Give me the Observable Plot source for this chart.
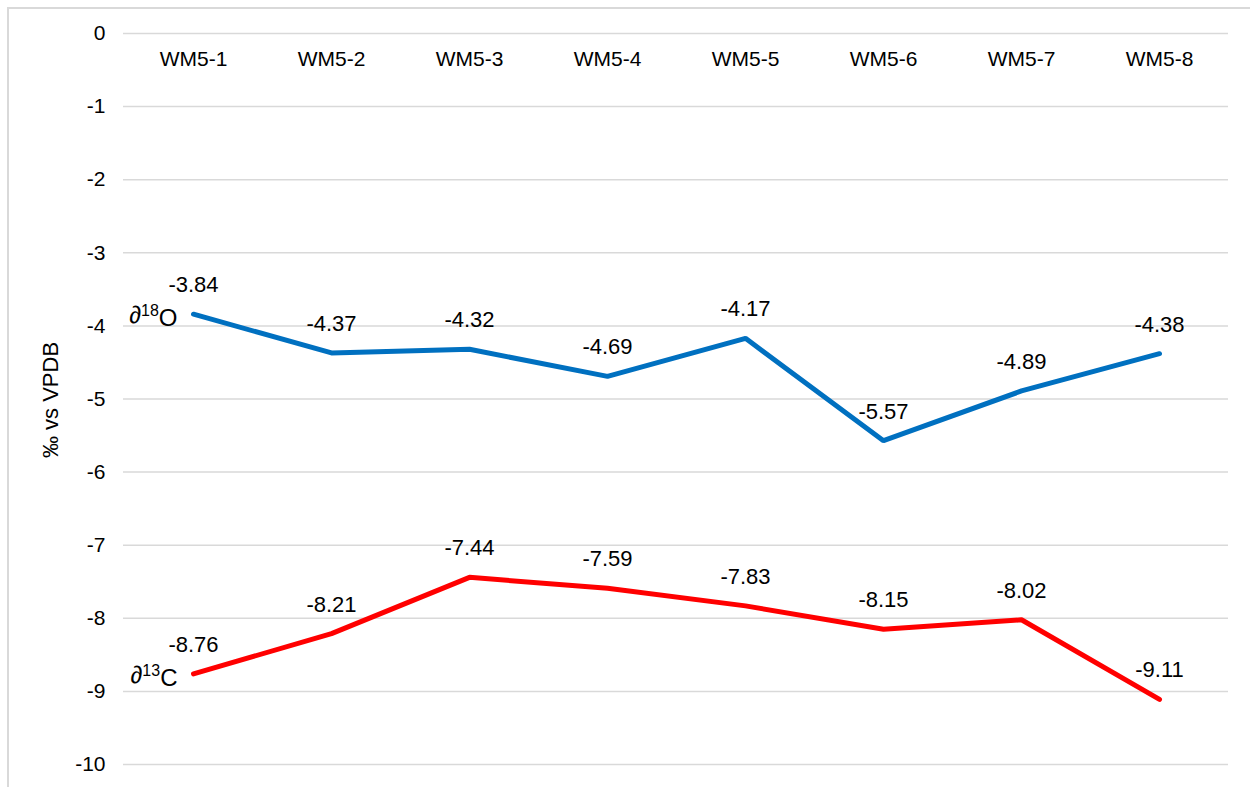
<!DOCTYPE html>
<html>
<head>
<meta charset="utf-8">
<script src="https://cdn.jsdelivr.net/npm/d3@7"></script>
<script src="https://cdn.jsdelivr.net/npm/@observablehq/plot@0.6"></script>
<style>
  html, body { margin: 0; padding: 0; background: #fff; overflow: hidden; }
  #wrap { position: relative; width: 1250px; height: 787px; }
  #frame { position: absolute; left: 7px; top: 7px; width: 1300px; height: 900px; border: 2px solid #d9d9d9; box-sizing: border-box; pointer-events: none; }
  #chart { position: absolute; left: 0; top: 0; }
</style>
</head>
<body>
<div id="wrap"><div id="frame"></div><div id="chart"></div></div>
<script>
const samples = ["WM5-1", "WM5-2", "WM5-3", "WM5-4", "WM5-5", "WM5-6", "WM5-7", "WM5-8"];
const o18 = [-3.84, -4.37, -4.32, -4.69, -4.17, -5.57, -4.89, -4.38];
const c13 = [-8.76, -8.21, -7.44, -7.59, -7.83, -8.15, -8.02, -9.11];
const yTicks = [0, -1, -2, -3, -4, -5, -6, -7, -8, -9, -10];
const seriesNames = ["O", "C"];
const seriesColors = ["#0070C0", "#FF0000"];
const seriesSup = ["18", "13"];

const rows = [];
samples.forEach((s, i) => rows.push({sample: s, value: o18[i], series: "O"}));
samples.forEach((s, i) => rows.push({sample: s, value: c13[i], series: "C"}));
const firsts = [rows[0], rows[samples.length]];

const font = "'Liberation Sans', Arial, sans-serif";

const plot = Plot.plot({
  width: 1250,
  height: 787,
  marginTop: 33,
  marginBottom: 23,
  marginLeft: 123,
  marginRight: 22,
  style: {fontFamily: font, fontSize: "21px", color: "#000", background: "transparent"},
  x: {type: "point", domain: samples, padding: 0.5, axis: null},
  y: {domain: [-10, 0], ticks: yTicks},
  color: {domain: seriesNames, range: seriesColors},
  marks: [
    Plot.gridY(yTicks, {stroke: "#d9d9d9", strokeOpacity: 1, strokeWidth: 1.5}),
    Plot.axisY(yTicks, {tickSize: 0, tickPadding: 18, label: null, fontSize: 21, tickFormat: d => d === 0 ? "0" : String(d).replace("\u2212", "-")}),
    Plot.text(samples, {x: d => d, frameAnchor: "top", dy: 26, lineAnchor: "middle", fontSize: 21, fill: "#000"}),
    Plot.line(rows, {x: "sample", y: "value", z: "series", stroke: "series", strokeWidth: 5, strokeLinejoin: "miter", strokeLinecap: "round"}),
    Plot.text(rows, {x: "sample", y: "value", text: d => d.value.toFixed(2), dy: -29, fontSize: 22, fill: "#000"}),
    Plot.text(firsts, {x: "sample", y: "value", text: d => d.series, textAnchor: "end", dx: -16, dy: 1, fontSize: 24, fill: "#000", className: "series-label"})
  ]
});

// Y axis title
const svg = d3.select(plot);
svg.append("text")
  .attr("transform", "translate(52,400) rotate(-90)")
  .attr("text-anchor", "middle")
  .attr("dominant-baseline", "middle")
  .attr("font-family", font)
  .attr("font-size", 22)
  .attr("fill", "#000")
  .text("\u2030 vs VPDB");

// Series labels with superscript isotope numbers
svg.selectAll("g.series-label text").each(function() {
  const t = d3.select(this);
  const letter = t.text();
  const idx = seriesNames.indexOf(letter);
  t.text("");
  t.append("tspan").text("\u2202");
  t.append("tspan").attr("font-size", 16).attr("dy", "-0.4em").text(seriesSup[idx]);
  t.append("tspan").attr("dy", "0.4em").text(letter);
});

document.getElementById("chart").appendChild(plot);
</script>
</body>
</html>
